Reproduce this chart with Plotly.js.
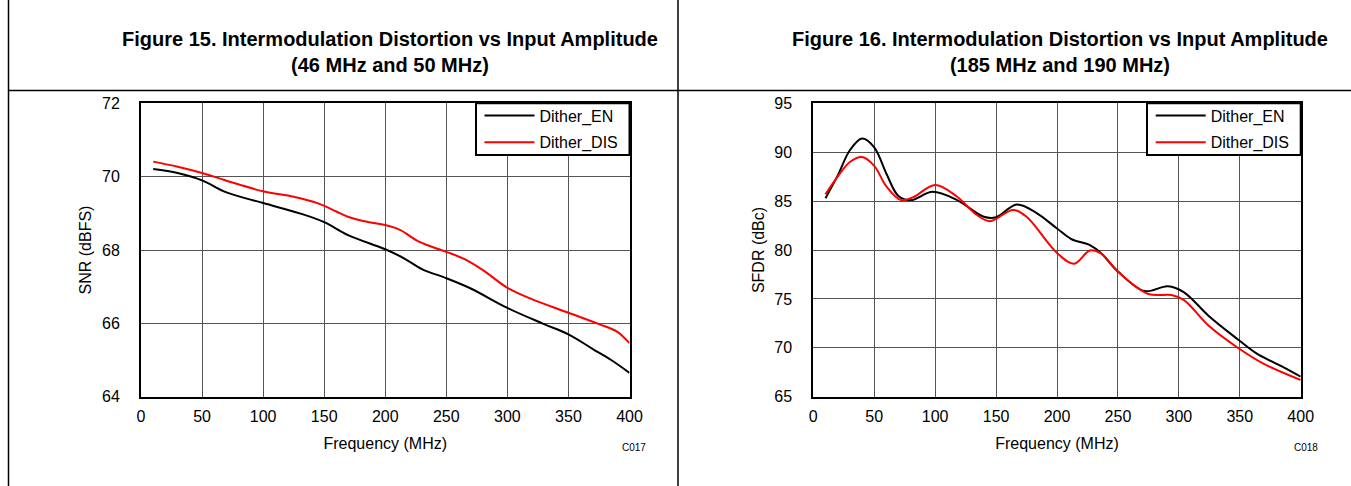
<!DOCTYPE html>
<html>
<head>
<meta charset="utf-8">
<script src="https://cdn.plot.ly/plotly-3.0.1.min.js"></script>
<style>html,body{margin:0;padding:0;background:#fff;}#chart{width:1351px;height:486px;}</style>
</head>
<body>
<div id="chart"></div>
<script>
// ---- Figure 15 data (SNR vs frequency) ----
var f15_en_x  = [10, 30, 50, 70, 100, 130, 150, 170, 200, 215, 230, 250, 270, 300, 330, 350, 370, 385, 400];
var f15_en_y  = [70.21, 70.10, 69.90, 69.57, 69.28, 69.00, 68.76, 68.40, 68.02, 67.78, 67.48, 67.23, 66.95, 66.42, 65.98, 65.70, 65.30, 65.00, 64.65];
var f15_dis_x = [10, 30, 50, 70, 100, 125, 145, 160, 170, 185, 200, 212, 228, 250, 265, 280, 300, 320, 350, 375, 390, 400];
var f15_dis_y = [70.41, 70.27, 70.10, 69.89, 69.60, 69.45, 69.27, 69.05, 68.90, 68.77, 68.68, 68.55, 68.22, 67.95, 67.75, 67.45, 66.97, 66.66, 66.29, 65.98, 65.77, 65.46];

// ---- Figure 16 data (SFDR vs frequency) ----
var f16_en_x  = [10, 20, 30, 40, 50, 60, 70, 80, 98, 118, 140, 150, 167, 183, 200, 212, 227, 236, 250, 272, 291, 304, 325, 348, 364, 386, 400];
var f16_en_y  = [85.3, 87.6, 90.2, 91.4, 90.5, 87.8, 85.5, 85.1, 85.95, 85.1, 83.4, 83.35, 84.65, 83.8, 82.2, 81.1, 80.5, 79.7, 77.8, 75.8, 76.3, 75.7, 73.2, 70.9, 69.4, 68.0, 67.05];
var f16_dis_x = [10, 20, 30, 40, 50, 60, 72, 82, 100, 118, 134, 145, 164, 175, 200, 214, 227, 236, 250, 275, 294, 304, 325, 349, 369, 400];
var f16_dis_y = [85.7, 87.5, 89.0, 89.5, 88.6, 86.5, 85.1, 85.4, 86.65, 85.45, 83.6, 82.95, 84.1, 83.4, 79.7, 78.6, 79.95, 79.65, 77.8, 75.5, 75.4, 74.9, 72.2, 69.95, 68.4, 66.7];

var seriesNames = ['Dither_EN', 'Dither_DIS'];
var seriesColors = ['#000000', '#ff0000'];
var titles = ['<b>Figure 15. Intermodulation Distortion vs Input Amplitude<br>(46 MHz and 50 MHz)</b>',
              '<b>Figure 16. Intermodulation Distortion vs Input Amplitude<br>(185 MHz and 190 MHz)</b>'];
var yTitles = ['SNR (dBFS)', 'SFDR (dBc)'];
var xTitle = 'Frequency (MHz)';
var codes = ['C017', 'C018'];

var FONT = 'Arial, "Liberation Sans", sans-serif';
var W = 1351, H = 486;

function line(x, y, i, xa, ya, lg) {
  return {x: x, y: y, type: 'scatter', mode: 'lines', name: seriesNames[i],
          line: {color: seriesColors[i], width: 2, shape: 'spline', smoothing: 1},
          xaxis: xa, yaxis: ya, legend: lg, legendgroup: lg + i, showlegend: true};
}

var data = [
  line(f15_en_x, f15_en_y, 0, 'x', 'y', 'legend'),
  line(f15_dis_x, f15_dis_y, 1, 'x', 'y', 'legend'),
  line(f16_en_x, f16_en_y, 0, 'x2', 'y2', 'legend2'),
  line(f16_dis_x, f16_dis_y, 1, 'x2', 'y2', 'legend2')
];

var px = function(v){ return v / W; };
var py = function(v){ return 1 - v / H; };

var dom1 = [px(141), px(629.5)];
var dom2 = [px(813.3), px(1300.7)];
var ydom = [py(396.7), py(103.3)];

function xaxis(dom, anchor) {
  return {domain: dom, anchor: anchor, range: [0, 400], tick0: 0, dtick: 50,
          showgrid: true, gridcolor: '#555', gridwidth: 1, zeroline: false,
          showline: true, mirror: true, linecolor: '#000', linewidth: 2,
          ticks: '', ticklabelstandoff: 4,
          tickfont: {family: FONT, size: 16, color: '#000'},
          title: {text: xTitle, font: {family: FONT, size: 16, color: '#000'}, standoff: 14}};
}
function yaxis(dom, anchor, range, dtick, t) {
  return {domain: dom, anchor: anchor, range: range, tick0: range[0], dtick: dtick,
          showgrid: true, gridcolor: '#555', gridwidth: 1, zeroline: false,
          showline: true, mirror: true, linecolor: '#000', linewidth: 2,
          ticks: '', ticklabelstandoff: 16,
          tickfont: {family: FONT, size: 16, color: '#000'},
          title: {text: t, font: {family: FONT, size: 16, color: '#000'}, standoff: 6}};
}

function legend(xr) {
  return {x: xr - px(6), xanchor: 'right', y: py(98.5), yanchor: 'top',
          bgcolor: 'rgba(0,0,0,0)', borderwidth: 0,
          font: {family: FONT, size: 16, color: '#000'},
          traceorder: 'grouped', tracegroupgap: 3, itemwidth: 50};
}

function legendBox(x0, x1) {
  return {type: 'rect', xref: 'paper', yref: 'paper', layer: 'above',
          x0: x0, x1: x1, y0: py(155), y1: ydom[1],
          fillcolor: '#fff', line: {color: '#000', width: 2}};
}

var layout = {
  width: W, height: H,
  margin: {l: 0, r: 0, t: 0, b: 0},
  paper_bgcolor: '#fff', plot_bgcolor: '#fff',
  font: {family: FONT, color: '#000'},
  showlegend: true,
  xaxis: xaxis(dom1, 'y'),
  yaxis: yaxis(ydom, 'x', [64, 72], 2, yTitles[0]),
  xaxis2: xaxis(dom2, 'y2'),
  yaxis2: yaxis(ydom, 'x2', [65, 95], 5, yTitles[1]),
  legend: legend(dom1[1]),
  legend2: legend(dom2[1]),
  annotations: [
    {text: titles[0], xref: 'paper', yref: 'paper', x: px(390), y: py(52), xanchor: 'center', yanchor: 'middle',
     showarrow: false, font: {family: FONT, size: 20, color: '#000'}},
    {text: titles[1], xref: 'paper', yref: 'paper', x: px(1060), y: py(52), xanchor: 'center', yanchor: 'middle',
     showarrow: false, font: {family: FONT, size: 20, color: '#000'}},
    {text: codes[0], xref: 'paper', yref: 'paper', x: px(634), y: py(447), xanchor: 'center', yanchor: 'middle',
     showarrow: false, font: {family: FONT, size: 10, color: '#000'}},
    {text: codes[1], xref: 'paper', yref: 'paper', x: px(1306), y: py(447), xanchor: 'center', yanchor: 'middle',
     showarrow: false, font: {family: FONT, size: 10, color: '#000'}}
  ],
  shapes: [
    {type: 'line', xref: 'paper', yref: 'paper', x0: px(8.5), x1: px(8.5), y0: 0, y1: 1, line: {color: '#000', width: 1.5}},
    {type: 'line', xref: 'paper', yref: 'paper', x0: px(678), x1: px(678), y0: 0, y1: 1, line: {color: '#000', width: 1.5}},
    {type: 'line', xref: 'paper', yref: 'paper', x0: px(8.5), x1: 1, y0: py(90.5), y1: py(90.5), line: {color: '#000', width: 1.5}},
    legendBox(px(476), dom1[1]),
    legendBox(px(1147), dom2[1])
  ]
};

Plotly.newPlot('chart', data, layout, {displayModeBar: false, staticPlot: true});
</script>
</body>
</html>
